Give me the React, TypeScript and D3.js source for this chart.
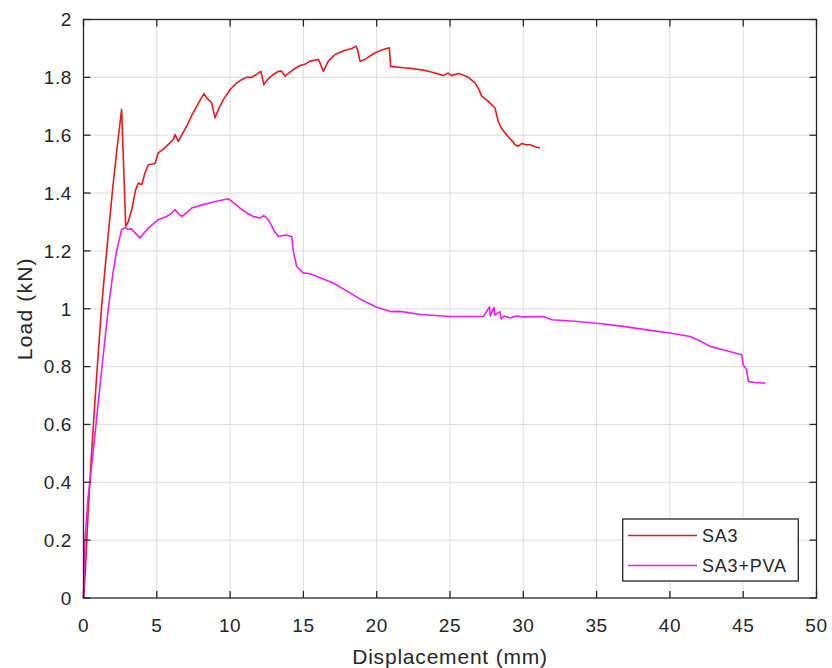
import React from "react";
import * as d3 from "d3";

const xTicks = [0, 5, 10, 15, 20, 25, 30, 35, 40, 45, 50];
const yTicks = [0, 0.2, 0.4, 0.6, 0.8, 1, 1.2, 1.4, 1.6, 1.8, 2];
const seriesNames = ["SA3", "SA3+PVA"];
const seriesColors = ["#e8191c", "#f21af2"];

const sa3Disp = [0, 0.05, 0.15, 0.3, 0.56, 0.9, 1.24, 1.58, 2.0, 2.3, 2.6, 2.88, 3.05, 3.29, 3.55, 3.74, 3.97, 4.2, 4.42, 4.88, 5.1, 5.4, 5.67, 6.13, 6.24, 6.47, 6.7, 7.04, 7.4, 7.72, 8.0, 8.22, 8.4, 8.74, 8.97, 9.2, 9.54, 10.0, 10.4, 10.79, 11.1, 11.47, 11.8, 12.1, 12.3, 12.6, 12.95, 13.3, 13.5, 13.75, 14.0, 14.31, 14.77, 15.1, 15.45, 16.02, 16.13, 16.36, 16.7, 17.16, 17.84, 18.3, 18.59, 18.7, 18.86, 19.2, 19.88, 20.45, 20.86, 20.95, 21.81, 22.5, 23.18, 23.6, 24.09, 24.54, 24.88, 25.1, 25.57, 25.9, 26.25, 26.71, 27.0, 27.16, 27.61, 28.07, 28.29, 28.5, 28.75, 29.05, 29.32, 29.43, 29.66, 29.89, 30.2, 30.46, 30.8, 31.14];
const sa3Load = [0, 0.03, 0.12, 0.28, 0.51, 0.77, 1.01, 1.2, 1.42, 1.56, 1.689, 1.285, 1.3, 1.343, 1.41, 1.435, 1.429, 1.47, 1.498, 1.502, 1.539, 1.55, 1.562, 1.585, 1.602, 1.579, 1.6, 1.631, 1.67, 1.7, 1.725, 1.744, 1.729, 1.712, 1.66, 1.689, 1.723, 1.758, 1.778, 1.792, 1.8, 1.8, 1.81, 1.821, 1.775, 1.795, 1.81, 1.821, 1.822, 1.804, 1.815, 1.827, 1.841, 1.845, 1.856, 1.862, 1.85, 1.821, 1.856, 1.879, 1.894, 1.9, 1.908, 1.895, 1.856, 1.862, 1.885, 1.896, 1.902, 1.838, 1.833, 1.83, 1.825, 1.82, 1.813, 1.806, 1.815, 1.806, 1.813, 1.808, 1.8, 1.781, 1.755, 1.735, 1.717, 1.694, 1.648, 1.625, 1.608, 1.59, 1.576, 1.567, 1.562, 1.571, 1.567, 1.567, 1.56, 1.556];

const pvaDisp = [0, 0.05, 0.1, 0.3, 0.67, 1.2, 1.69, 2.0, 2.26, 2.6, 2.83, 3.05, 3.29, 3.6, 3.85, 4.1, 4.42, 4.8, 5.1, 5.67, 6.0, 6.24, 6.45, 6.7, 7.0, 7.38, 8.17, 8.85, 9.4, 9.88, 10.11, 10.4, 10.68, 11.1, 11.58, 12.04, 12.3, 12.5, 12.7, 13.0, 13.3, 13.8, 14.2, 14.31, 14.54, 14.99, 15.45, 16.0, 17.0, 18.0, 19.0, 20.0, 21.0, 21.59, 23.0, 25.0, 27.27, 27.7, 27.75, 28.0, 28.05, 28.4, 28.5, 28.7, 29.1, 29.5, 30.0, 31.36, 31.94, 33.5, 35.0, 36.7, 38.42, 40.0, 41.37, 42.0, 42.74, 43.8, 44.9, 45.0, 45.24, 45.35, 45.8, 46.49];
const pvaLoad = [0, 0.1, 0.2, 0.34, 0.51, 0.77, 1.0, 1.12, 1.2, 1.273, 1.28, 1.275, 1.276, 1.258, 1.245, 1.26, 1.279, 1.295, 1.308, 1.319, 1.33, 1.343, 1.33, 1.319, 1.33, 1.348, 1.36, 1.369, 1.375, 1.38, 1.371, 1.36, 1.348, 1.332, 1.319, 1.314, 1.322, 1.315, 1.3, 1.27, 1.25, 1.255, 1.25, 1.2, 1.146, 1.124, 1.121, 1.11, 1.09, 1.06, 1.03, 1.005, 0.99, 0.991, 0.98, 0.973, 0.973, 1.006, 0.975, 1.005, 0.978, 0.99, 0.965, 0.975, 0.968, 0.975, 0.972, 0.973, 0.962, 0.957, 0.95, 0.94, 0.927, 0.916, 0.904, 0.89, 0.87, 0.856, 0.841, 0.806, 0.789, 0.749, 0.745, 0.743];

const W = 832;
const H = 668;
const L = 83.5, R = 816.5, T = 19.5, B = 598;
const axisColor = "#262626";
const font = "'Liberation Sans', Arial, Helvetica, sans-serif";

export default function App() {
  const x = d3.scaleLinear().domain([0, 50]).range([L, R]);
  const y = d3.scaleLinear().domain([0, 2]).range([B, T]);
  const line = d3.line<[number, number]>().x((d) => x(d[0])).y((d) => y(d[1]));
  const sa3 = sa3Disp.map((d, i) => [d, sa3Load[i]] as [number, number]);
  const pva = pvaDisp.map((d, i) => [d, pvaLoad[i]] as [number, number]);
  const series = [sa3, pva];
  const tl = 7;

  const legL = 622.7, legR = 798.3, legT = 519, legB = 581;
  const rows = [535.5, 565.5];

  return (
    <svg width={W} height={H} style={{ position: "absolute", left: 0, top: 0, background: "#fff" }}>
      <rect x={0} y={0} width={W} height={H} fill="#fff" />
      <g stroke="#dcdcdc" strokeWidth={1}>
        {xTicks.slice(1, -1).map((t) => (
          <line key={"gx" + t} x1={x(t)} x2={x(t)} y1={T} y2={B} />
        ))}
        {yTicks.slice(1, -1).map((t) => (
          <line key={"gy" + t} x1={L} x2={R} y1={y(t)} y2={y(t)} />
        ))}
      </g>
      {series.map((s, i) => (
        <path key={i} d={line(s) || ""} fill="none" stroke={seriesColors[i]} strokeWidth={1.6} strokeLinejoin="round" />
      ))}
      <g stroke={axisColor} strokeWidth={1.3}>
        <rect x={L} y={T} width={R - L} height={B - T} fill="none" />
        {xTicks.map((t) => (
          <g key={"tx" + t}>
            <line x1={x(t)} x2={x(t)} y1={B} y2={B - tl} />
            <line x1={x(t)} x2={x(t)} y1={T} y2={T + tl} />
          </g>
        ))}
        {yTicks.map((t) => (
          <g key={"ty" + t}>
            <line x1={L} x2={L + tl} y1={y(t)} y2={y(t)} />
            <line x1={R} x2={R - tl} y1={y(t)} y2={y(t)} />
          </g>
        ))}
      </g>
      <g fill={axisColor} fontFamily={font} fontSize={19} letterSpacing={0.6}>
        {xTicks.map((t) => (
          <text key={"lx" + t} x={x(t)} y={631.5} textAnchor="middle">
            {d3.format("")(t)}
          </text>
        ))}
        {yTicks.map((t) => (
          <text key={"ly" + t} x={72} y={y(t) + 6.8} textAnchor="end">
            {d3.format("")(t)}
          </text>
        ))}
      </g>
      <text x={(L + R) / 2} y={664} textAnchor="middle" fill={axisColor} fontFamily={font} fontSize={21} letterSpacing={0.8}>
        Displacement (mm)
      </text>
      <text transform={`translate(31.7, ${(T + B) / 2}) rotate(-90)`} textAnchor="middle" fill={axisColor} fontFamily={font} fontSize={21} letterSpacing={1.2}>
        Load (kN)
      </text>
      <rect x={legL} y={legT} width={legR - legL} height={legB - legT} fill="#fff" stroke={axisColor} strokeWidth={1.3} />
      {seriesNames.map((n, i) => (
        <g key={n}>
          <line x1={628} x2={697} y1={rows[i]} y2={rows[i]} stroke={seriesColors[i]} strokeWidth={1.6} />
          <text x={702} y={rows[i] + 6.5} fill={axisColor} fontFamily={font} fontSize={18} letterSpacing={0.8}>
            {n}
          </text>
        </g>
      ))}
    </svg>
  );
}
